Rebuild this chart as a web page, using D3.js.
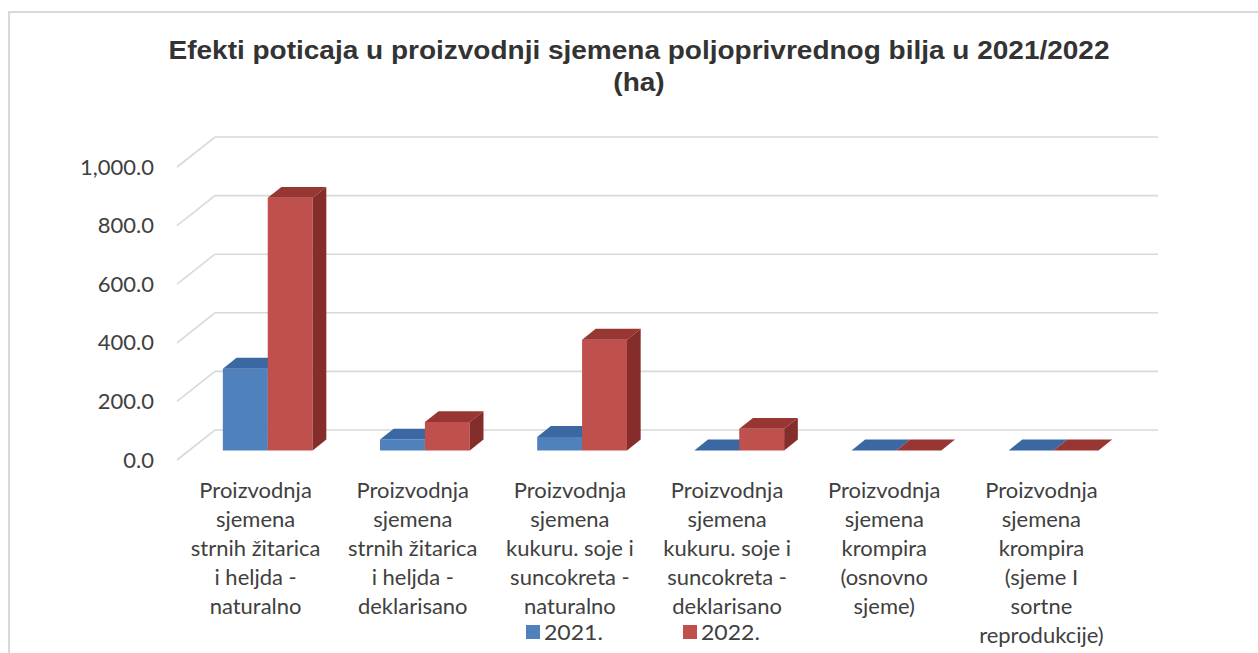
<!DOCTYPE html>
<html>
<head>
<meta charset="utf-8">
<script src="https://cdn.jsdelivr.net/npm/d3@7"></script>
<style>
  html, body { margin: 0; padding: 0; background: #ffffff; }
  svg { display: block; }
</style>
</head>
<body>
<svg id="chart" width="1258" height="653"></svg>
<script>
// Category labels, already broken into the lines shown under each group
const categoryLines = [
  ["Proizvodnja", "sjemena", "strnih žitarica", "i heljda -", "naturalno"],
  ["Proizvodnja", "sjemena", "strnih žitarica", "i heljda -", "deklarisano"],
  ["Proizvodnja", "sjemena", "kukuru. soje i", "suncokreta -", "naturalno"],
  ["Proizvodnja", "sjemena", "kukuru. soje i", "suncokreta -", "deklarisano"],
  ["Proizvodnja", "sjemena", "krompira", "(osnovno", "sjeme)"],
  ["Proizvodnja", "sjemena", "krompira", "(sjeme I", "sortne", "reprodukcije)"]
];
const categories = categoryLines.map(l => l.join(" "));
const seriesNames = ["2021.", "2022."];
const values2021 = [279, 37, 46, 0, 0, 0];
const values2022 = [862, 97, 378, 74, 0, 0];
const yTicks = [0, 200, 400, 600, 800, 1000];
const titleLines = ["Efekti poticaja u proizvodnji sjemena poljoprivrednog bilja u 2021/2022", "(ha)"];

const svg = d3.select("#chart");
const labelFont = "Lato, 'Open Sans', sans-serif";
const widen = 1.047; // horizontal stretch applied to the axis and legend texts

// Chart frame
svg.append("path")
  .attr("d", "M9,653 L9,12 L1258,12")
  .attr("fill", "none").attr("stroke", "#d9d9d9").attr("stroke-width", 2);

// Title
svg.append("g")
  .attr("transform", "translate(639,0) scale(1.12,1)")
  .selectAll("text").data(titleLines).join("text")
  .attr("x", 0).attr("y", (d, i) => 59 + i * 32)
  .attr("text-anchor", "middle")
  .attr("font-family", "'Liberation Sans', Arial, sans-serif")
  .attr("font-weight", "bold").attr("font-size", 25)
  .attr("fill", "#333333")
  .text(d => d);

// Oblique 3D projection: depth fraction t in [0,1] shifts right and up
const depthDX = 38, depthDY = -30;
const y = d3.scaleLinear().domain([0, 1000]).range([460, 167]);
const x = d3.scaleBand().domain(categories).range([177, 1120]).paddingInner(0).paddingOuter(0);
const xs = d3.scaleBand().domain(seriesNames).range([0, x.bandwidth()]).paddingInner(0).paddingOuter(0.75);
const proj = (px, v, t) => [px + depthDX * t, y(v) + depthDY * t];

// Side wall ticks and back wall gridlines
const grid = svg.append("g").attr("stroke", "#d9d9d9").attr("stroke-width", 1.6).attr("fill", "none");
grid.selectAll("path").data(yTicks).join("path")
  .attr("d", v => {
    const a = proj(177, v, 0), b = proj(177, v, 1), c = proj(1120, v, 1);
    return `M${a[0]},${a[1]} L${b[0]},${b[1]} L${c[0]},${c[1]}`;
  });

// Y axis labels
const fmt = d3.format(",.1f");
svg.append("g").selectAll("text").data(yTicks).join("text")
  .attr("transform", v => `translate(154,${y(v) + 7.5}) scale(${widen},1)`)
  .attr("text-anchor", "end")
  .attr("font-family", labelFont)
  .attr("font-size", 21).attr("fill", "#404040")
  .text(v => fmt(v));

// Bars
const t0 = 0.32, t1 = 0.68;
const faces = [
  { front: "#4f81bd", top: "#3b68a2", side: "#35608f" },
  { front: "#c0504d", top: "#983633", side: "#852d2a" }
];
const bars = [];
categories.forEach((c, i) => {
  [values2021, values2022].forEach((vals, s) => {
    bars.push({ c, s, v: vals[i] });
  });
});
const poly = pts => "M" + pts.map(p => p.join(",")).join("L") + "Z";
const barG = svg.append("g").selectAll("g").data(bars).join("g");
barG.each(function (d) {
  const g = d3.select(this);
  const xl = x(d.c) + xs(seriesNames[d.s]);
  const xr = xl + xs.bandwidth();
  const col = faces[d.s];
  // front face
  g.append("path").attr("fill", col.front)
    .attr("d", poly([proj(xl, 0, t0), proj(xr, 0, t0), proj(xr, d.v, t0), proj(xl, d.v, t0)]));
  // top face
  g.append("path").attr("fill", col.top)
    .attr("d", poly([proj(xl, d.v, t0), proj(xr, d.v, t0), proj(xr, d.v, t1), proj(xl, d.v, t1)]));
  // right side face
  g.append("path").attr("fill", col.side)
    .attr("d", poly([proj(xr, 0, t0), proj(xr, 0, t1), proj(xr, d.v, t1), proj(xr, d.v, t0)]));
});

// Category labels
const catG = svg.append("g").selectAll("text").data(categories).join("text")
  .attr("transform", c => `translate(${x(c) + x.bandwidth() / 2},0) scale(${widen},1)`)
  .attr("text-anchor", "middle")
  .attr("font-family", labelFont)
  .attr("font-size", 21).attr("fill", "#404040");
catG.each(function (c, i) {
  d3.select(this).selectAll("tspan").data(categoryLines[i]).join("tspan")
    .attr("x", 0).attr("y", (d, k) => 498 + k * 29)
    .text(d => d);
});

// Legend
const legend = svg.append("g").selectAll("g").data(seriesNames).join("g")
  .attr("transform", (d, i) => `translate(${526 + i * 157},625)`);
legend.append("rect").attr("width", 14).attr("height", 14)
  .attr("fill", (d, i) => faces[i].front);
legend.append("text")
  .attr("transform", `translate(18,15) scale(${widen},1)`)
  .attr("font-family", labelFont)
  .attr("font-size", 22).attr("fill", "#404040")
  .text(d => d);
</script>
</body>
</html>
